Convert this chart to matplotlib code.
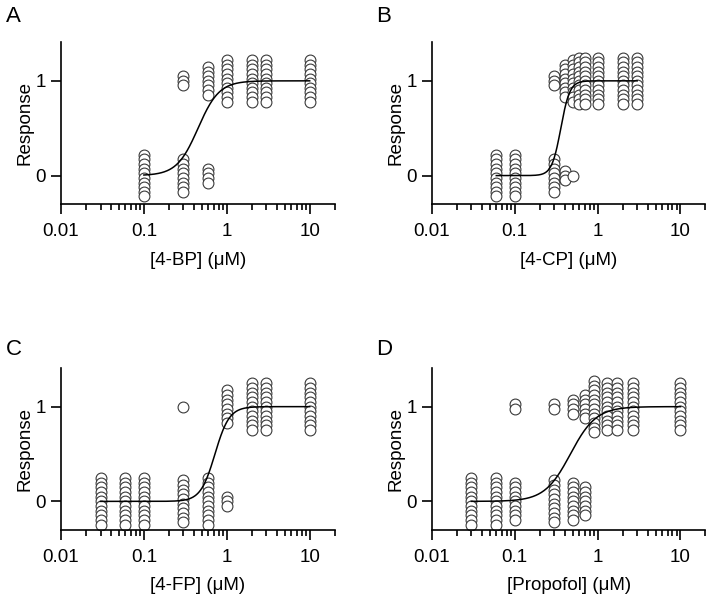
"""Concentration-response of four compounds: binary responses stacked, with Hill fits."""
import numpy as np
import matplotlib.pyplot as plt
from matplotlib.ticker import FixedLocator, FixedFormatter, LogLocator, NullFormatter

plt.rcParams['font.family'] = ['Liberation Sans', 'DejaVu Sans']

# counts of responders (1) and non-responders (0) at each concentration (uM)
bp_conc = [0.1, 0.3, 0.6, 1, 2, 3, 10]
bp_n1 = [0, 3, 7, 10, 10, 10, 10]
bp_n0 = [10, 8, 4, 0, 0, 0, 0]
bp_fit = (0.45, 3.4)  # EC50, Hill

cp_conc = [0.06, 0.1, 0.3, 0.4, 0.5, 0.6, 0.7, 1, 2, 3]
cp_n1 = [0, 0, 3, 8, 10, 11, 11, 11, 11, 11]
cp_n0 = [10, 10, 8, 3, 1, 0, 0, 0, 0, 0]
cp_fit = (0.36, 8.0)

fp_conc = [0.03, 0.06, 0.1, 0.3, 0.6, 1, 2, 3, 10]
fp_n1 = [0, 0, 0, 1, 0, 8, 11, 11, 11]
fp_n0 = [11, 11, 11, 10, 11, 3, 0, 0, 0]
fp_fit = (0.72, 5.0)

pr_conc = [0.03, 0.06, 0.1, 0.3, 0.5, 0.7, 0.9, 1.3, 1.7, 2.7, 10]
pr_n1 = [0, 0, 2, 2, 4, 6, 12, 11, 11, 11, 11]
pr_n0 = [11, 11, 9, 10, 9, 7, 0, 0, 0, 0, 0]
pr_fit = (0.47, 2.8)

panels = [
    ('A', '[4-BP] (\u03bcM)', bp_conc, bp_n1, bp_n0, bp_fit, (0.1, 10)),
    ('B', '[4-CP] (\u03bcM)', cp_conc, cp_n1, cp_n0, cp_fit, (0.06, 3)),
    ('C', '[4-FP] (\u03bcM)', fp_conc, fp_n1, fp_n0, fp_fit, (0.03, 10)),
    ('D', '[Propofol] (\u03bcM)', pr_conc, pr_n1, pr_n0, pr_fit, (0.03, 10)),
]

fig = plt.figure(figsize=(7.09, 6.0), dpi=100)
w, h = 0.386, 0.27
pos = [(0.086, 0.66), (0.609, 0.66), (0.086, 0.117), (0.609, 0.117)]
letter_y = [0.972, 0.972, 0.417, 0.417]
dy = 0.049

for (letter, xlabel, conc, n1, n0, fit, crange), (x0, y0), ly in zip(panels, pos, letter_y):
    ax = fig.add_axes([x0, y0, w, h])
    for c, a, b in zip(conc, n1, n0):
        for val, n in ((1, a), (0, b)):
            if n == 0:
                continue
            ys = val + (np.arange(n)[::-1] - (n - 1) / 2) * dy
            ax.plot(np.full(n, c), ys, 'o', ms=7.8, mfc='white', mec='#3a3a3a',
                    mew=0.8, ls='none', zorder=2)
    ec50, hill = fit
    xx = np.logspace(np.log10(crange[0]), np.log10(crange[1]), 300)
    ax.plot(xx, xx**hill / (xx**hill + ec50**hill), color='black', lw=1.1, zorder=3)

    ax.set_xscale('log')
    ax.set_xlim(0.01, 20)
    ax.set_ylim(-0.3, 1.41)
    ax.xaxis.set_major_locator(FixedLocator([0.01, 0.1, 1, 10]))
    ax.xaxis.set_major_formatter(FixedFormatter(['0.01', '0.1', '1', '10']))
    ax.xaxis.set_minor_locator(LogLocator(base=10, subs=np.arange(2, 10)))
    ax.xaxis.set_minor_formatter(NullFormatter())
    ax.set_yticks([0, 1])
    ax.set_yticklabels(['0', '1'])
    for s in ('top', 'right'):
        ax.spines[s].set_visible(False)
    for s in ('left', 'bottom'):
        ax.spines[s].set_linewidth(1.2)
    ax.tick_params(which='major', direction='out', length=7, width=1.2, labelsize=13.5)
    ax.tick_params(axis='x', which='major', pad=7)
    ax.tick_params(axis='y', which='major', pad=4)
    ax.tick_params(which='minor', direction='out', length=4, width=1.2)
    ax.set_xlabel(xlabel, fontsize=13.5, labelpad=8)
    ax.set_ylabel('Response', fontsize=13.5, labelpad=1)
    fig.text(x0 - 0.078, ly, letter, fontsize=16, va='center', ha='left')

fig.savefig('out.png', dpi=100)
